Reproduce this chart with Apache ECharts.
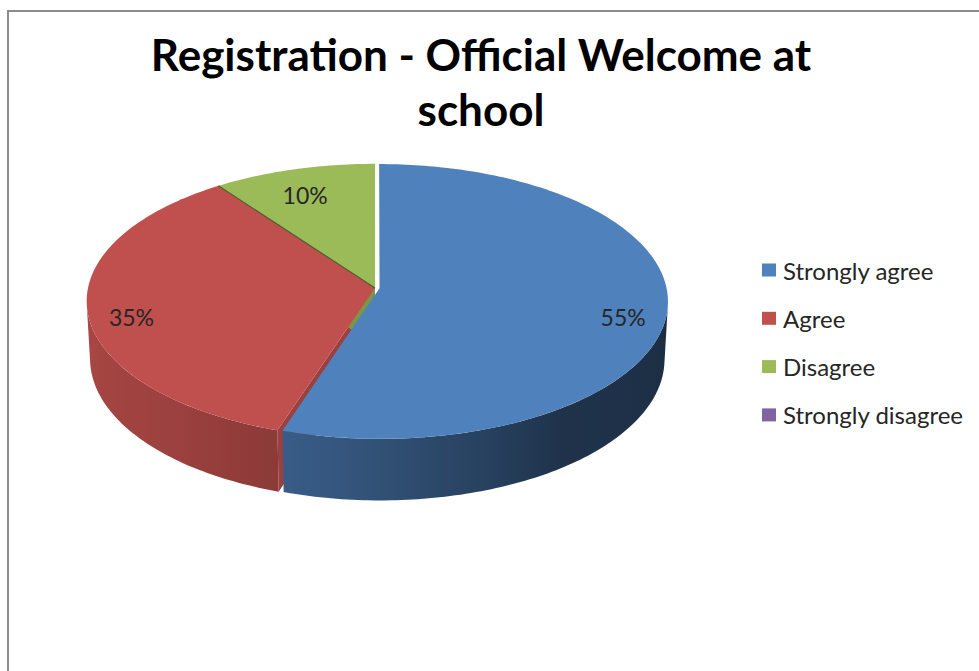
<!DOCTYPE html>
<html>
<head>
<meta charset="utf-8">
<script src="https://cdn.jsdelivr.net/npm/echarts@6/dist/echarts.min.js"></script>
<style>
html,body{margin:0;padding:0;background:#ffffff;}
#chart{width:979px;height:671px;}
</style>
</head>
<body>
<div id="chart"></div>
<script>
// ---- data ----
const titleText = 'Registration - Official Welcome at\nschool';
const categories = ['Strongly agree', 'Agree', 'Disagree', 'Strongly disagree'];
const values = [55, 35, 10, 0];

// ---- style ----
const palette = ['#4f81bd', '#c0504d', '#9bbb59', '#8064a2'];
const explode = [0.016, 0, 0, 0];
const VIEW = { ax: 375, ay: 288, k: 2649, D: 9.23, sinPhi: 0.474, h: 0.2304 };
// wall lighting: [angle in degrees, brightness factor]
const LIGHT = [[90, 0.36], [140, 0.39], [154, 0.48], [175, 0.6], [200, 0.73], [223, 0.81], [270, 0.89]];

const total = values.reduce((a, b) => a + b, 0);
const starts = [];
values.reduce((acc, v, i) => { starts[i] = acc / total * Math.PI * 2; return acc + v; }, 0);

const S = VIEW.sinPhi, C = Math.sqrt(1 - S * S);
function project(X, Y, Z) {
  const d = VIEW.D - Y * S - Z * C;
  return [VIEW.ax + VIEW.k * X / d, VIEW.ay + VIEW.k * (Z * S - Y * C) / d];
}
const z0 = 1 / (VIEW.D * C);
const tVisMin = Math.acos(-z0), tVisMax = 2 * Math.PI - Math.acos(-z0);

function shade(hex, f) {
  const n = parseInt(hex.slice(1), 16);
  const r = Math.min(255, Math.round(((n >> 16) & 255) * f));
  const g = Math.min(255, Math.round(((n >> 8) & 255) * f));
  const b = Math.min(255, Math.round((n & 255) * f));
  return 'rgb(' + r + ',' + g + ',' + b + ')';
}
function brightness(t) {
  const deg = t * 180 / Math.PI;
  if (deg <= LIGHT[0][0]) return LIGHT[0][1];
  for (let j = 1; j < LIGHT.length; j++) {
    if (deg <= LIGHT[j][0]) {
      const a = LIGHT[j - 1], b = LIGHT[j];
      return a[1] + (b[1] - a[1]) * (deg - a[0]) / (b[0] - a[0]);
    }
  }
  return LIGHT[LIGHT.length - 1][1];
}
function wallGradient(base) {
  const x0 = VIEW.ax - 290, x1 = VIEW.ax + 290;
  const stops = [];
  for (let j = 0; j <= 40; j++) {
    const q = j / 40;
    const sx = Math.max(-1, Math.min(1, -1 + 2 * q));
    const t = Math.PI - Math.asin(sx);
    stops.push({ offset: q, color: shade(base, brightness(t)) });
  }
  return new echarts.graphic.LinearGradient(x0, 0, x1, 0, stops, true);
}

function renderItem(params, api) {
  const i = params.dataIndex;
  const v = api.value(0);
  const children = [];
  if (!(v > 0)) return { type: 'group', children: children };
  const t0 = starts[i], t1 = t0 + v / total * Math.PI * 2;
  const m = (t0 + t1) / 2;
  const ox = explode[i] * Math.sin(m), oz = -explode[i] * Math.cos(m);
  const P = (t, r, Y) => project(ox + r * Math.sin(t), Y, oz - r * Math.cos(t));
  const arc = (a, b, Y) => {
    const n = Math.max(2, Math.ceil(Math.abs(b - a) / (Math.PI / 180)));
    const pts = [];
    for (let j = 0; j <= n; j++) pts.push(P(a + (b - a) * j / n, 1, Y));
    return pts;
  };
  const h = VIEW.h;
  const base = palette[i % palette.length];
  if (Math.sin(t0) < -1e-6) {
    children.push({ type: 'polygon', z2: 1, shape: { points: [P(t0, 0, 0), P(t0, 1, 0), P(t0, 1, -h), P(t0, 0, -h)] },
      style: { fill: shade(base, 0.8) } });
  }
  if (Math.sin(t1) > 1e-6) {
    children.push({ type: 'polygon', z2: 1, shape: { points: [P(t1, 0, 0), P(t1, 1, 0), P(t1, 1, -h), P(t1, 0, -h)] },
      style: { fill: shade(base, 0.8) } });
  }
  const wa = Math.max(t0, tVisMin), wb = Math.min(t1, tVisMax);
  if (wb > wa) {
    children.push({ type: 'polygon', z2: 2, shape: { points: arc(wa, wb, 0).concat(arc(wb, wa, -h)) },
      style: { fill: wallGradient(base) } });
  }
  children.push({ type: 'polygon', z2: 3, shape: { points: [P(0, 0, 0)].concat(arc(t0, t1, 0)) },
    style: { fill: base } });
  const prev = (i - 1 + values.length) % values.length;
  if (explode[i] === 0 && explode[prev] === 0 && values[prev] > 0) {
    const a = P(t0, 0, 0), b = P(t0, 1, 0);
    children.push({ type: 'line', z2: 4, shape: { x1: a[0], y1: a[1], x2: b[0], y2: b[1] },
      style: { stroke: shade(base, 0.5), lineWidth: 1.2 } });
  }
  const lp = P(m, 0.85, -0.04);
  children.push({ type: 'text', z2: 5, x: lp[0], y: lp[1],
    style: { text: Math.round(v / total * 100) + '%', font: '23px Lato', fill: '#262626',
      align: 'center', verticalAlign: 'middle', textAlign: 'center', textVerticalAlign: 'middle' } });
  return { type: 'group', children: children };
}

const chart = echarts.init(document.getElementById('chart'), null, { renderer: 'svg' });
chart.setOption({
  animation: false,
  color: palette,
  graphic: [
    { type: 'rect', silent: true, shape: { x: 8, y: 11, width: 1200, height: 1000 },
      style: { fill: 'none', stroke: '#8c8c8c', lineWidth: 2 } },
    { type: 'text', x: 481, y: 26,
      style: { text: titleText, font: 'bold 44px Lato', fill: '#000000', lineHeight: 55,
        align: 'center', verticalAlign: 'top', textAlign: 'center', textVerticalAlign: 'top' } }
  ],
  legend: {
    orient: 'vertical', left: 757, top: 250, itemWidth: 14, itemHeight: 13, itemGap: 18.3,
    icon: 'rect', selectedMode: false,
    textStyle: { fontFamily: 'Lato', fontSize: 24, color: '#262626', lineHeight: 30, padding: [0, 0, 0, 2] },
    data: categories
  },
  series: [
    { type: 'pie', radius: [0, 0], center: [-300, -300], silent: true,
      label: { show: false }, labelLine: { show: false },
      data: categories.map((n, i) => ({ name: n, value: values[i] })) },
    { type: 'custom', coordinateSystem: 'none', silent: true, renderItem: renderItem,
      data: values.map(v => [v]) }
  ]
});
</script>
</body>
</html>
